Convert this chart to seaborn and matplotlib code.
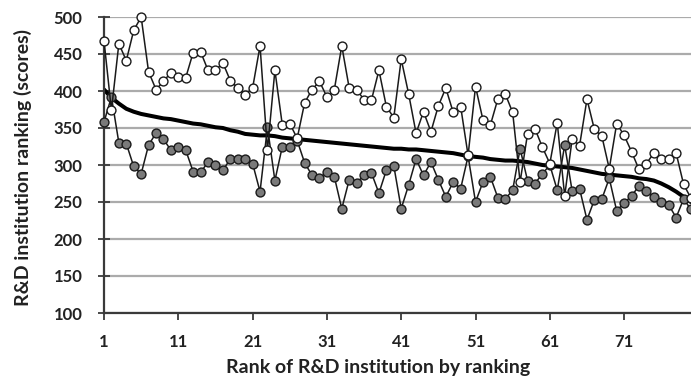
import numpy as np
import pandas as pd
import matplotlib
matplotlib.use("Agg")
import matplotlib.pyplot as plt
import seaborn as sns

rank = list(range(1, 81))

upper_scores = [468, 374, 464, 441, 482, 500, 426, 402, 413, 425,
                419, 418, 452, 453, 428, 428, 438, 414, 404, 395,
                404, 461, 320, 428, 354, 356, 336, 384, 402, 413,
                392, 402, 461, 404, 402, 388, 388, 428, 379, 364,
                443, 396, 343, 372, 345, 380, 404, 371, 379, 313,
                406, 361, 354, 389, 396, 371, 277, 342, 349, 324,
                302, 357, 258, 335, 326, 389, 348, 339, 295, 356,
                340, 318, 294, 302, 316, 308, 308, 316, 274, 255]

lower_scores = [358, 392, 330, 329, 298, 288, 327, 343, 335, 320,
                325, 320, 291, 290, 304, 300, 293, 308, 308, 308,
                302, 264, 351, 279, 325, 325, 333, 303, 286, 282,
                291, 284, 241, 280, 276, 286, 289, 262, 293, 299,
                241, 273, 308, 286, 304, 280, 257, 277, 268, 312,
                250, 277, 284, 256, 254, 266, 322, 279, 275, 288,
                300, 266, 327, 265, 268, 226, 253, 254, 282, 238,
                249, 258, 272, 265, 257, 250, 246, 229, 254, 240]

trend_scores = [402, 391, 383, 376, 372, 369, 367, 365, 363, 362,
                360, 358, 356, 355, 353, 351, 350, 347, 345, 342,
                341, 340, 340, 339, 337, 336, 335, 334, 333, 332,
                331, 330, 329, 328, 327, 326, 325, 324, 323, 322,
                322, 321, 321, 320, 319, 318, 317, 316, 314, 312,
                311, 310, 308, 307, 306, 306, 305, 304, 302, 300,
                299, 298, 297, 296, 294, 292, 290, 288, 287, 286,
                285, 284, 282, 281, 279, 275, 270, 264, 257, 250]

y_ticks = [100, 150, 200, 250, 300, 350, 400, 450, 500]
x_ticks = [1, 11, 21, 31, 41, 51, 61, 71]

sns.set_theme(style="white")
plt.rcParams['font.family'] = ['Lato', 'DejaVu Sans']

df = pd.DataFrame({"rank": rank, "upper": upper_scores,
                   "lower": lower_scores, "trend": trend_scores})

fig = plt.figure(figsize=(6.91, 3.80), dpi=100)
ax = fig.add_axes([104 / 691, 1 - 313 / 380, 587 / 691, 296 / 380])

sns.lineplot(data=df, x="rank", y="trend", color="black", lw=2.9,
             ax=ax, zorder=2)
sns.lineplot(data=df, x="rank", y="lower", color="#1a1a1a", lw=1.1,
             marker="o", markersize=6.4, markerfacecolor="#7a7a7a",
             markeredgecolor="#1a1a1a", markeredgewidth=1.0, ax=ax, zorder=3,
             clip_on=False)
sns.lineplot(data=df, x="rank", y="upper", color="#1a1a1a", lw=1.1,
             marker="o", markersize=6.4, markerfacecolor="white",
             markeredgecolor="#1a1a1a", markeredgewidth=1.0, ax=ax, zorder=4,
             clip_on=False)

ax.set_xlim(1, 80)
ax.set_ylim(100, 500)
ax.set_yticks(y_ticks)
ax.set_xticks(x_ticks)
ax.set_yticklabels([str(v) for v in y_ticks])
ax.set_xticklabels([str(v) for v in x_ticks])

ax.yaxis.grid(True, color="#ababab", lw=1.6)
ax.xaxis.grid(False)
ax.set_axisbelow(True)

for s in ["top", "right"]:
    ax.spines[s].set_visible(False)
for s in ["left", "bottom"]:
    ax.spines[s].set_color("#3a3a3a")
    ax.spines[s].set_linewidth(1.6)

ax.tick_params(axis="y", left=True, direction="inout", length=9, width=1.3,
               color="#3a3a3a", labelsize=12, pad=11, labelcolor="#222222")
ax.tick_params(axis="x", bottom=True, direction="out", length=5, width=1.3,
               color="#3a3a3a", labelsize=12, pad=10, labelcolor="#222222")
for lab in ax.get_xticklabels() + ax.get_yticklabels():
    lab.set_fontweight("bold")

ax.set_xlabel("Rank of R&D institution by ranking", fontsize=14,
              fontweight="bold", color="#222222")
ax.set_ylabel("R&D institution ranking (scores)", fontsize=14,
              fontweight="bold", color="#222222")
ax.xaxis.set_label_coords((378 - 104) / 587, (313 - 368) / 296)
ax.yaxis.set_label_coords((23 - 104) / 587, (313 - 167) / 296)
ax.xaxis.label.set_va("center")
ax.yaxis.label.set_va("center")

fig.savefig("out.png", dpi=100)
